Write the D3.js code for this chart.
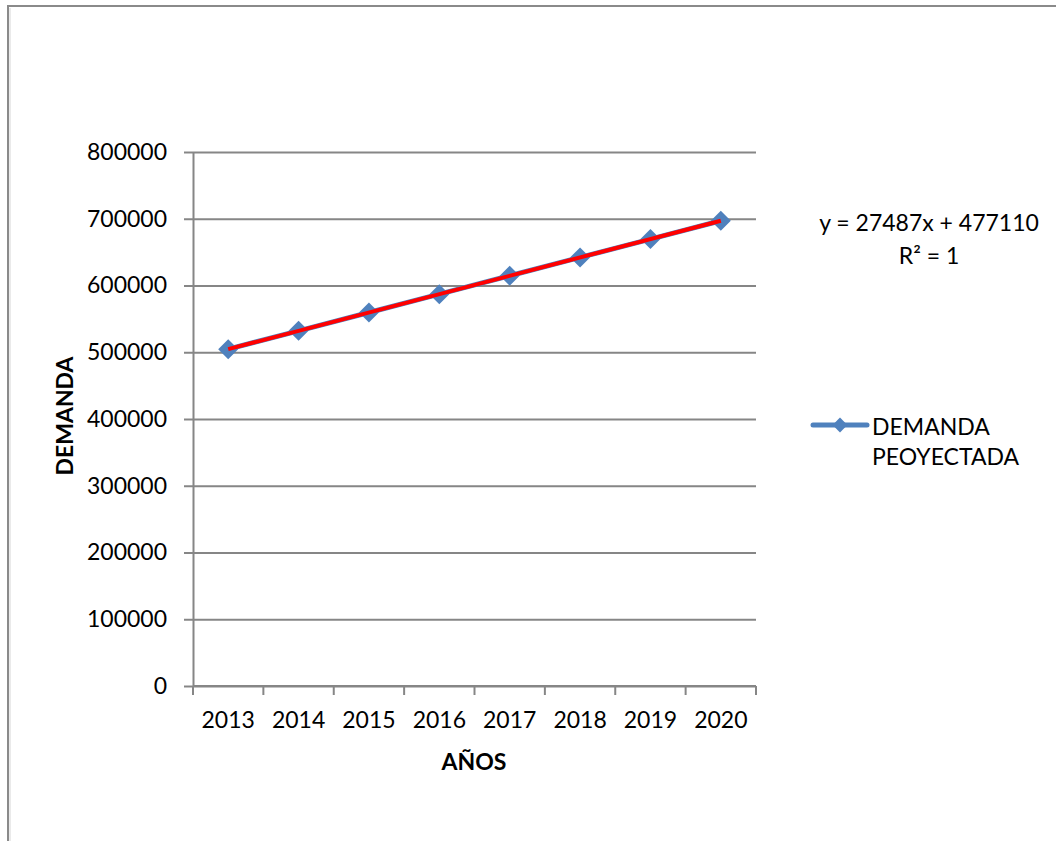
<!DOCTYPE html>
<html>
<head>
<meta charset="utf-8">
<script src="https://cdn.jsdelivr.net/npm/d3@7"></script>
<style>
  html, body { margin: 0; padding: 0; background: #fff; }
  svg { display: block; font-family: Lato, "Open Sans", sans-serif; }
</style>
</head>
<body>
<svg id="chart" width="1056" height="841"></svg>
<script>
// Projected demand per year
const years = [2013, 2014, 2015, 2016, 2017, 2018, 2019, 2020];
const demand = [504597, 532084, 559571, 587058, 614545, 642032, 669519, 697006];
const yTicks = [0, 100000, 200000, 300000, 400000, 500000, 600000, 700000, 800000];
const seriesName = ["DEMANDA", "PEOYECTADA"];

const svg = d3.select("#chart");
const W = 1056, H = 841;
const plot = { left: 193, top: 152, right: 756, bottom: 686 };

const blue = "#4F81BD", red = "#FF0000", grid = "#868686";

// Outer frame of the chart area (partly cut off at right and bottom)
svg.append("path")
  .attr("d", `M8,${H} V6 H${W}`)
  .attr("fill", "none").attr("stroke", "#8a8a8a").attr("stroke-width", 2);
svg.append("line").attr("x1", 10).attr("x2", 10).attr("y1", 8).attr("y2", H)
  .attr("stroke", "#d6d6d6").attr("stroke-width", 1);

const x = d3.scaleBand().domain(years).range([plot.left, plot.right]).padding(0);
const y = d3.scaleLinear().domain([0, 800000]).range([plot.bottom, plot.top]);
const cx = d => x(d) + x.bandwidth() / 2;

// Horizontal gridlines
svg.append("g")
  .attr("transform", `translate(${plot.left},0)`)
  .call(d3.axisLeft(y).tickValues(yTicks).tickSize(-(plot.right - plot.left)).tickFormat(""))
  .call(g => g.select(".domain").remove())
  .call(g => g.selectAll("line").attr("stroke", grid).attr("stroke-width", 2));

// Y axis
svg.append("g")
  .attr("transform", `translate(${plot.left},0)`)
  .call(d3.axisLeft(y).tickValues(yTicks).tickSizeInner(9).tickSizeOuter(0).tickPadding(17).tickFormat(d3.format("d")))
  .call(g => g.select(".domain").attr("stroke", grid).attr("stroke-width", 2))
  .call(g => g.selectAll("line").attr("stroke", grid).attr("stroke-width", 2))
  .call(g => g.selectAll("text").attr("font-size", 23).attr("fill", "#000")
    .attr("font-family", "Lato, sans-serif"));

// X axis: tick marks sit on the category boundaries
const xAxis = svg.append("g").attr("transform", `translate(0,${plot.bottom})`);
xAxis.call(d3.axisBottom(x).tickSize(0).tickPadding(26))
  .call(g => g.select(".domain").remove())
  .call(g => g.selectAll("text").attr("font-size", 23).attr("fill", "#000")
    .attr("font-family", "Lato, sans-serif"));
const bounds = years.map(d => x(d)).concat([x.range()[1]]);
xAxis.selectAll("line.bound").data(bounds).join("line").attr("class", "bound")
  .attr("x1", d => d).attr("x2", d => d).attr("y1", 0).attr("y2", 9)
  .attr("stroke", grid).attr("stroke-width", 2);
xAxis.append("line").attr("x1", plot.left).attr("x2", plot.right)
  .attr("stroke", grid).attr("stroke-width", 2);

// Series line and markers
const pts = years.map((d, i) => [cx(d), y(demand[i])]);
svg.append("path").attr("d", d3.line()(pts))
  .attr("fill", "none").attr("stroke", blue).attr("stroke-width", 5)
  .attr("stroke-linejoin", "round");
const diamond = d3.symbol().type(d3.symbolDiamond2).size(190);
svg.append("g").selectAll("path").data(pts).join("path")
  .attr("transform", p => `translate(${p[0]},${p[1]}) rotate(45)`)
  .attr("d", d3.symbol().type(d3.symbolSquare).size(200))
  .attr("fill", blue);

// Linear trendline (least squares on period index 1..n)
const n = demand.length;
const idx = d3.range(1, n + 1);
const mx = d3.mean(idx), my = d3.mean(demand);
const slope = d3.sum(idx, (t, i) => (t - mx) * (demand[i] - my)) / d3.sum(idx, t => (t - mx) ** 2);
const intercept = my - slope * mx;
const trendPts = [idx[0], idx[n - 1]].map((t, k) => [cx(years[k === 0 ? 0 : n - 1]), y(intercept + slope * t)]);
svg.append("path").attr("d", d3.line()(trendPts))
  .attr("fill", "none").attr("stroke", red).attr("stroke-width", 4);

// Trendline equation
const eq = svg.append("g").attr("font-size", 23).attr("text-anchor", "middle").attr("fill", "#000");
eq.append("text").attr("x", 929).attr("y", 231)
  .text(`y = ${Math.round(slope)}x + ${Math.round(intercept)}`);
eq.append("text").attr("x", 929).attr("y", 264).text("R² = 1");

// Legend
const lg = svg.append("g");
lg.append("line").attr("x1", 813).attr("x2", 867).attr("y1", 425).attr("y2", 425)
  .attr("stroke", blue).attr("stroke-width", 5).attr("stroke-linecap", "round");
lg.append("path").attr("transform", "translate(840,425) rotate(45)")
  .attr("d", d3.symbol().type(d3.symbolSquare).size(110)).attr("fill", blue);
lg.selectAll("text").data(seriesName).join("text")
  .attr("x", 872).attr("y", (d, i) => 435 + i * 30)
  .attr("font-size", 23).attr("fill", "#000").text(d => d);

// Axis titles
svg.append("text").attr("x", 474).attr("y", 770).attr("text-anchor", "middle")
  .attr("font-size", 23).attr("font-weight", "bold").text("AÑOS");
svg.append("text").attr("transform", "translate(73,416) rotate(-90)")
  .attr("text-anchor", "middle").attr("font-size", 23).attr("font-weight", "bold").text("DEMANDA");
</script>
</body>
</html>
